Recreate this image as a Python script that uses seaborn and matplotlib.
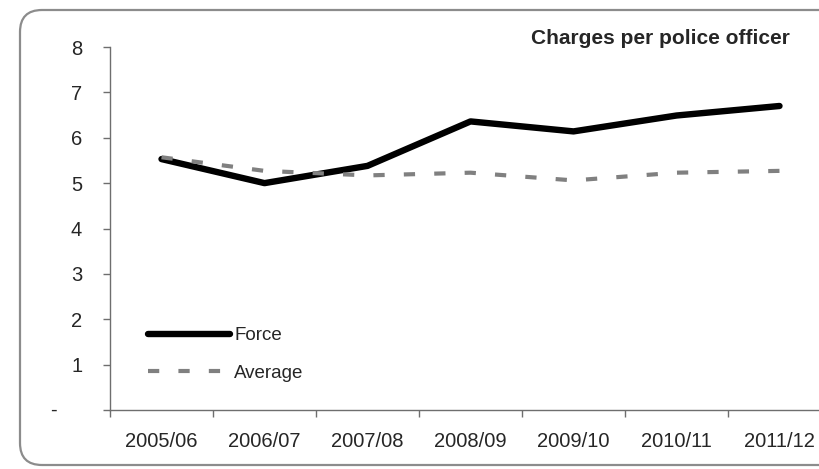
import pandas as pd
import matplotlib.pyplot as plt
import seaborn as sns
from matplotlib.patches import FancyBboxPatch
from matplotlib.transforms import IdentityTransform

# Data
years = ['2005/06', '2006/07', '2007/08', '2008/09', '2009/10', '2010/11', '2011/12']
force = [5.53, 5.00, 5.38, 6.36, 6.14, 6.49, 6.70]
average = [5.57, 5.27, 5.17, 5.23, 5.06, 5.23, 5.27]
y_ticks = [0, 1, 2, 3, 4, 5, 6, 7, 8]
y_labels = ['', '1', '2', '3', '4', '5', '6', '7', '8']

data = pd.DataFrame({'Year': years, 'Force': force, 'Average': average})

sns.set_style('white')
plt.rcParams['font.family'] = ['Liberation Sans', 'DejaVu Sans']

fig = plt.figure(figsize=(8.2, 4.69), dpi=100)
ax = fig.add_axes([110 / 820, 1 - 410 / 469, 721 / 820, 363 / 469])

sns.lineplot(data=data, x='Year', y='Force', ax=ax, color='black', linewidth=4.6,
             solid_capstyle='round', solid_joinstyle='round', label='Force', sort=False)
sns.lineplot(data=data, x='Year', y='Average', ax=ax, color='#808080', linewidth=3.0,
             linestyle=(0, (2.7, 4.6)), dash_capstyle='butt', label='Average', sort=False)

ax.set_xlim(-0.5, 6.5)
ax.set_ylim(0, 8)
ax.set_xlabel('')
ax.set_ylabel('')

# category labels between boundary ticks
ax.set_xticks([i - 0.5 for i in range(len(years) + 1)])
ax.set_xticklabels([])
ax.set_xticks(range(len(years)), minor=True)
ax.set_xticklabels(years, minor=True, fontsize=14.5)
ax.tick_params(axis='x', which='major', direction='out', length=5, width=1, color='#6e6e6e', bottom=True)
ax.tick_params(axis='x', which='minor', length=0, pad=16)

ax.set_yticks(y_ticks)
ax.set_yticklabels(y_labels, fontsize=14.5)
ax.tick_params(axis='y', direction='out', length=5, width=1, color='#6e6e6e', pad=15, left=True)
fig.text(53 / 820, 1 - 410 / 469, '-', fontsize=14.5, ha='center', va='center')

for side in ['top', 'right']:
    ax.spines[side].set_visible(False)
for side in ['left', 'bottom']:
    ax.spines[side].set_color('#6e6e6e')
    ax.spines[side].set_linewidth(1)

ax.legend(loc='upper left', bbox_to_anchor=(148 / 820, 1 - 327 / 469), bbox_transform=fig.transFigure,
          frameon=False, fontsize=13.5, handlelength=4.4, handletextpad=0.2, labelspacing=1.1,
          borderpad=0, borderaxespad=0)

fig.text(660 / 820, 1 - 39 / 469, 'Charges per police officer', fontsize=15, fontweight='bold',
         ha='center', va='center')

# rounded outer frame
frame = FancyBboxPatch((20, 4), 840, 455, boxstyle='round,pad=0,rounding_size=22',
                       transform=IdentityTransform(), facecolor='none', edgecolor='#8c8c8c',
                       linewidth=1.6)
fig.patches.append(frame)

fig.savefig('out.png', dpi=100)
